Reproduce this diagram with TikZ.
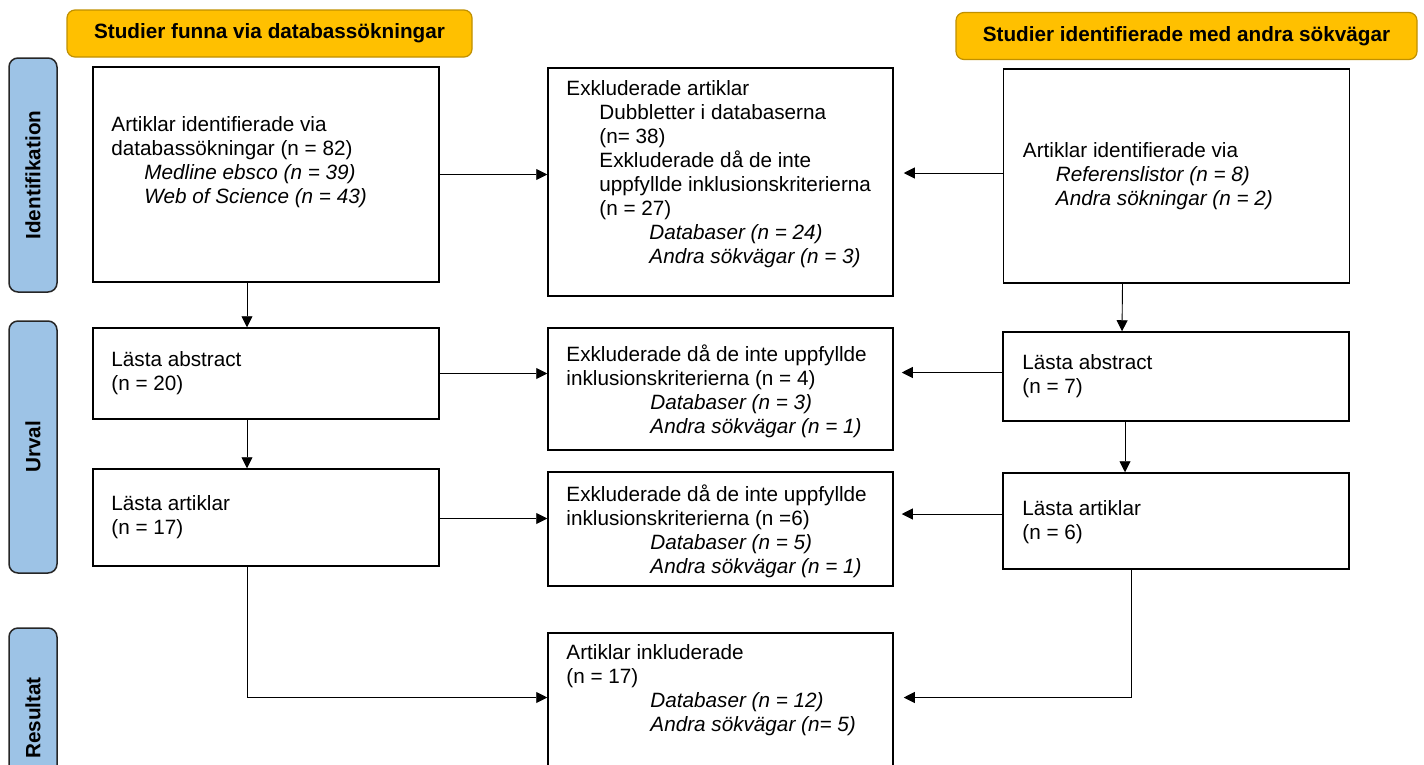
\documentclass[tikz,border=0pt]{standalone}
\usepackage{fontspec}
\setmainfont{Liberation Sans}
\usetikzlibrary{arrows.meta}

\definecolor{hdrorange}{HTML}{FFC000}
\definecolor{hdrline}{HTML}{C09000}
\definecolor{sideblue}{HTML}{9DC3E6}

\tikzset{
    box/.style={draw, line width=1.5pt, minimum width=346pt, inner sep=0pt},
    txt/.style={anchor=west, align=left, inner sep=0pt, font=\fontsize{20.7}{24}\selectfont},
    hdr/.style={draw=hdrline, fill=hdrorange, line width=1.2pt, rounded corners=8pt, minimum height=47pt, font=\fontsize{20.7}{24}\selectfont\bfseries},
    phase/.style={draw=black!85, fill=sideblue, line width=1.5pt, rounded corners=9pt, minimum height=48pt, rotate=90, font=\fontsize{20.7}{24}\selectfont\bfseries},
    arr/.style={-{Triangle[length=11pt,width=11pt]}, line width=0.9pt},
}

\begin{document}
\begin{tikzpicture}[x=1pt, y=-1pt]
    \useasboundingbox (0,0) rectangle (1424,764);

    % rubriker och faser
    \node[hdr, minimum width=405pt] (hdrdb) at (269.5,33.5) {Studier funna via databassökningar};
    \node[hdr, minimum width=461pt] (hdrother) at (1186.5,36) {Studier identifierade med andra sökvägar};
    \node[phase, minimum width=234pt] (ident) at (33,175) {Identifikation};
    \node[phase, minimum width=252pt] (urval) at (33,447) {Urval};
    \node[phase, minimum width=180pt] (result) at (33,718) {Resultat};

    % rutor
    \node[box, minimum height=215pt] (a1) at (266,174.5) {};
    \node[box, minimum height=228pt, minimum width=345pt] (b1) at (720.5,182) {};
    \node[box, minimum height=214pt] (c1) at (1176.5,176) {};
    \node[box, minimum height=91pt] (a2) at (266,373.5) {};
    \node[box, minimum height=122pt, minimum width=345pt] (b2) at (720.5,389) {};
    \node[box, minimum height=89pt] (c2) at (1176,376.5) {};
    \node[box, minimum height=97pt] (a3) at (266,517.5) {};
    \node[box, minimum height=114pt, minimum width=345pt] (b3) at (720.5,529) {};
    \node[box, minimum height=96pt] (c3) at (1176,521) {};
    \node[box, minimum height=167pt, minimum width=345pt] (b4) at (720.5,716.5) {};

    % texter
    \node[txt] (a1txt) at ([xshift=19pt, yshift=12.5pt]a1.west) {Artiklar identifierade via\\databassökningar (n = 82)\\\hspace*{33pt}\textit{Medline ebsco (n = 39)}\\\hspace*{33pt}\textit{Web of Science (n = 43)}};
    \node[txt] (b1txt) at ([xshift=19pt, yshift=8pt]b1.west) {Exkluderade artiklar\\\hspace*{33pt}Dubbletter i databaserna\\\hspace*{33pt}(n= 38)\\\hspace*{33pt}Exkluderade då de inte\\\hspace*{33pt}uppfyllde inklusionskriterierna\\\hspace*{33pt}(n = 27)\\\hspace*{83pt}\textit{Databaser (n = 24)}\\\hspace*{83pt}\textit{Andra sökvägar (n = 3)}};
    \node[txt] (c1txt) at ([xshift=20pt]c1.west) {Artiklar identifierade via\\\hspace*{33pt}\textit{Referenslistor (n = 8)}\\\hspace*{33pt}\textit{Andra sökningar (n = 2)}};
    \node[txt] (a2txt) at ([xshift=19pt]a2.west) {Lästa abstract\\(n = 20)};
    \node[txt] (b2txt) at ([xshift=19pt, yshift=-2pt]b2.west) {Exkluderade då de inte uppfyllde\\inklusionskriterierna (n = 4)\\\hspace*{84pt}\textit{Databaser (n = 3)}\\\hspace*{84pt}\textit{Andra sökvägar (n = 1)}};
    \node[txt] (c2txt) at ([xshift=20pt]c2.west) {Lästa abstract\\(n = 7)};
    \node[txt] (a3txt) at ([xshift=19pt]a3.west) {Lästa artiklar\\(n = 17)};
    \node[txt] (b3txt) at ([xshift=19pt, yshift=-2pt]b3.west) {Exkluderade då de inte uppfyllde\\inklusionskriterierna (n =6)\\\hspace*{84pt}\textit{Databaser (n = 5)}\\\hspace*{84pt}\textit{Andra sökvägar (n = 1)}};
    \node[txt] (c3txt) at ([xshift=20pt, yshift=-1.5pt]c3.west) {Lästa artiklar\\(n = 6)};
    \node[txt] (b4txt) at ([xshift=19pt, yshift=26pt]b4.west) {Artiklar inkluderade\\(n = 17)\\\hspace*{84pt}\textit{Databaser (n = 12)}\\\hspace*{84pt}\textit{Andra sökvägar (n= 5)}};

    % pilar
    \draw[arr] (a1.east) -- (a1.east -| b1.west);
    \draw[arr, shorten >=10pt] ([yshift=3pt]c1.west) -- ([yshift=3pt]c1.west -| b1.east);
    \draw[arr] ([xshift=-19pt]a1.south) -- ([xshift=-19pt]a2.north);
    \draw[arr] ([xshift=-54pt]c1.south) -- ([xshift=-54pt]c2.north);
    \draw[arr] (a2.east) -- (a2.east -| b2.west);
    \draw[arr, shorten >=8pt] ([yshift=4pt]c2.west) -- ([yshift=4pt]c2.west -| b2.east);
    \draw[arr] ([xshift=-19pt]a2.south) -- ([xshift=-19pt]a3.north);
    \draw[arr] ([xshift=-51pt]c2.south) -- ([xshift=-51pt]c3.north);
    \draw[arr] ([yshift=-1pt]a3.east) -- ([yshift=-1pt]a3.east -| b3.west);
    \draw[arr, shorten >=8pt] ([yshift=7pt]c3.west) -- ([yshift=7pt]c3.west -| b3.east);
    \draw[arr] ([xshift=-19pt]a3.south) |- ([yshift=19pt]b4.west);
    \draw[arr, shorten >=10pt] ([xshift=-45pt]c3.south) |- ([yshift=19pt]b4.east);
\end{tikzpicture}
\end{document}
